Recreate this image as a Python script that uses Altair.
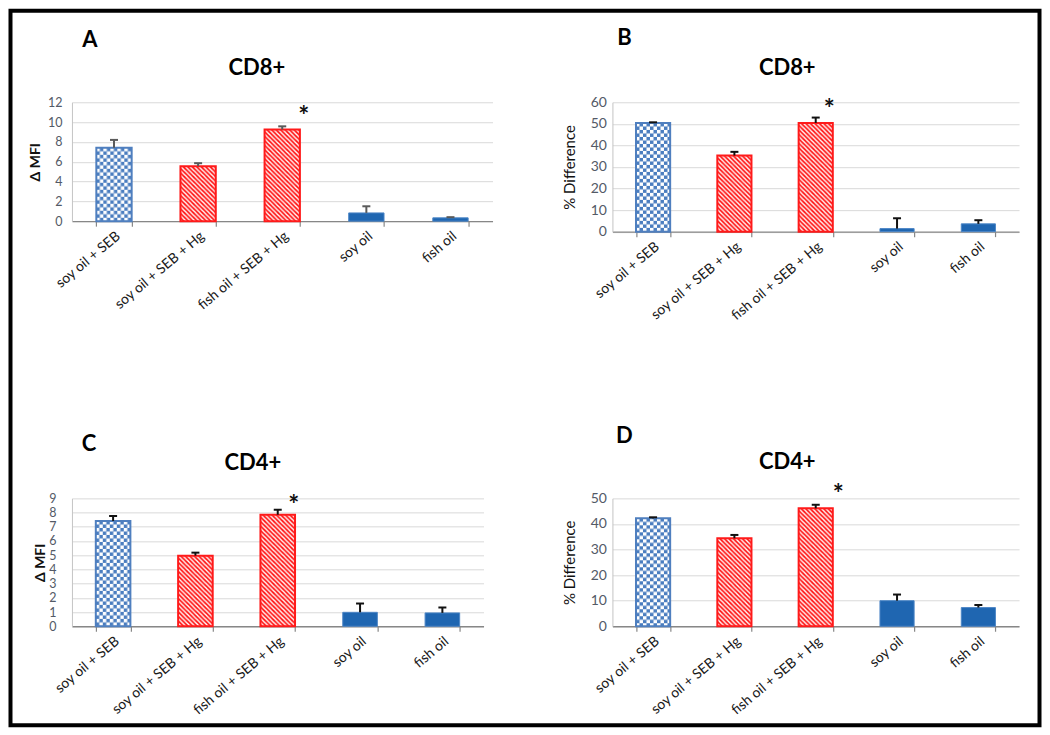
import base64
import altair as alt
import pandas as pd

# ---------------- data ----------------
categories = ["soy oil + SEB", "soy oil + SEB + Hg", "fish oil + SEB + Hg", "soy oil", "fish oil"]
fill_kind = ["checker", "stripe", "stripe", "solid", "solid"]

cd8_mfi_mean = [7.4, 5.55, 9.25, 0.83, 0.33]
cd8_mfi_sem = [0.8, 0.3, 0.32, 0.67, 0.07]
cd8_pct_mean = [50.4, 35.3, 50.4, 1.4, 3.6]
cd8_pct_sem = [0.3, 1.7, 2.5, 4.8, 1.7]
cd4_mfi_mean = [7.41, 4.97, 7.85, 0.98, 0.94]
cd4_mfi_sem = [0.35, 0.21, 0.35, 0.62, 0.38]
cd4_pct_mean = [42.2, 34.4, 46.1, 10.0, 7.3]
cd4_pct_sem = [0.4, 1.3, 1.4, 2.4, 1.0]

mfi8_ticks = [0, 2, 4, 6, 8, 10, 12]
pct8_ticks = [0, 10, 20, 30, 40, 50, 60]
mfi4_ticks = [0, 1, 2, 3, 4, 5, 6, 7, 8, 9]
pct4_ticks = [0, 10, 20, 30, 40, 50]

star_category = "fish oil + SEB + Hg"
star_level = [11.1, 59.4, 8.91, 53.7]  # A, B, C, D

# ---------------- fill patterns (svg tiles) ----------------
def svg_url(defs):
    svg = ('<svg xmlns="http://www.w3.org/2000/svg" width="100%" height="100%">'
           '<defs>' + defs + '</defs><rect width="100%" height="100%" fill="url(#p)"/></svg>')
    return "data:image/svg+xml;base64," + base64.b64encode(svg.encode()).decode()

CHECKER = svg_url('<pattern id="p" width="7" height="7" patternUnits="userSpaceOnUse">'
                  '<rect width="7" height="7" fill="#4a7dbf"/>'
                  '<rect width="3.5" height="3.5" fill="#ffffff"/>'
                  '<rect x="3.5" y="3.5" width="3.5" height="3.5" fill="#ffffff"/></pattern>')
STRIPE = svg_url('<pattern id="p" width="4.5" height="4.5" patternUnits="userSpaceOnUse">'
                 '<rect width="4.5" height="4.5" fill="#ff1a1a"/>'
                 '<path d="M-1,-1L5.5,5.5M-1,3.5L1,5.5M3.5,-1L5.5,1" stroke="#ffffff" stroke-width="1.4"/></pattern>')
PATTERN_URL = {"checker": CHECKER, "stripe": STRIPE, "solid": ""}

FONT = "Lato"


def make_panel(mean, sem, ticks, ymax, ytitle, ytitle_weight, ytitle_size, ylabel_size,
               letter, letter_pos, title, title_pos, width, height, err_color, star_y, star_dx,
               label_pad, title_pad, with_border=False):
    df = pd.DataFrame({
        "cat": categories,
        "kind": fill_kind,
        "mean": mean,
        "top": [m + s for m, s in zip(mean, sem)],
    })
    df["url"] = df["kind"].map(PATTERN_URL)

    xaxis = alt.Axis(title=None, labelAngle=-40, labelAlign="right", labelBaseline="middle",
                     labelPadding=8, labelOffset=4, labelFontSize=14, labelColor="#1a1a1a",
                     labelFont=FONT, tickBand="extent", tickSize=5, tickColor="#878787",
                     tickWidth=1.2, domainColor="#878787", domainWidth=1.4, grid=False)
    x = alt.X("cat:N", scale=alt.Scale(domain=categories, paddingInner=0.58, paddingOuter=0.29),
              axis=xaxis)
    yscale = alt.Scale(domain=[0, ymax], nice=False, zero=True)
    yaxis = alt.Axis(values=ticks, grid=True, gridColor="#d9d9d9", gridWidth=1,
                     domainColor="#c4c4c4", domainWidth=1, ticks=False,
                     labelFontSize=ylabel_size, labelColor="#535a66", labelFont=FONT,
                     labelPadding=label_pad, title=ytitle, titleFont=FONT,
                     titleFontSize=ytitle_size, titleFontWeight=ytitle_weight,
                     titleColor="#111111", titlePadding=title_pad)

    def Y(field):
        return alt.Y(field, scale=yscale, axis=yaxis)

    base = alt.Chart(df)
    patterned = base.transform_filter("datum.kind != 'solid'")
    solid_df = base.transform_filter("datum.kind == 'solid'")

    img = patterned.mark_image(aspect=False).encode(
        x=x, y=Y("mean:Q"), y2=alt.datum(0), url="url:N")
    outline = patterned.mark_bar(fillOpacity=0, strokeWidth=2).encode(
        x=x, y=Y("mean:Q"),
        stroke=alt.Stroke("kind:N", scale=alt.Scale(domain=["checker", "stripe"],
                                                   range=["#4f7fbf", "#ff1a1a"]), legend=None))
    solid = solid_df.mark_bar(color="#1f66b1", stroke="#4c86c6", strokeWidth=1).encode(
        x=x, y=Y("mean:Q"))
    stem = base.mark_rule(color=err_color, strokeWidth=2).encode(
        x=x, y=Y("mean:Q"), y2="top:Q")
    cap = base.mark_tick(color=err_color, thickness=2, size=8, opacity=1).encode(
        x=x, y=Y("top:Q"))

    star_df = pd.DataFrame({"cat": [star_category], "level": [star_y]})
    star = alt.Chart(star_df).mark_text(
        text="*", font=FONT, fontSize=26, fontWeight="bold", color="#111111",
        baseline="alphabetic", dx=star_dx, dy=14).encode(x=x, y=Y("level:Q"))

    one = pd.DataFrame({"k": [0]})
    letter_t = alt.Chart(one).mark_text(
        text=letter, font=FONT, fontSize=22, fontWeight="bold", color="#000000",
        align="center", baseline="middle").encode(
        x=alt.value(letter_pos[0]), y=alt.value(letter_pos[1]))
    title_t = alt.Chart(one).mark_text(
        text=title, font=FONT, fontSize=22, fontWeight="bold", color="#000000",
        align="center", baseline="middle").encode(
        x=alt.value(title_pos[0]), y=alt.value(title_pos[1]))

    layers = [img, outline, solid, stem, cap, star, letter_t, title_t]
    if with_border:
        border = alt.Chart(one).mark_rect(fill="#ffffff", fillOpacity=0, stroke="#000000",
                                          strokeWidth=4).encode(
            x=alt.value(-61.5), x2=alt.value(968.5), y=alt.value(-91.5), y2=alt.value(623.5))
        layers = [border] + layers
    return alt.layer(*layers).properties(width=width, height=height)


pA = make_panel(cd8_mfi_mean, cd8_mfi_sem, mfi8_ticks, 12, "Δ MFI", "bold", 14, 12.5, "A",
                (18, -62), "CD8+", (185, -34), 421, 119, "#5a5a5a", star_level[0], 21.5, 10, 5,
                with_border=True)
pB = make_panel(cd8_pct_mean, cd8_pct_sem, pct8_ticks, 60, "% Difference", "normal", 15, 14, "B",
                (12, -64), "CD8+", (175, -34), 407, 129.5, "#111111", star_level[1], 13.5, 6, 13)
pC = make_panel(cd4_mfi_mean, cd4_mfi_sem, mfi4_ticks, 9, "Δ MFI", "bold", 14, 12.5, "C",
                (17, -54), "CD4+", (181, -35), 412, 128, "#111111", star_level[2], 16, 16, 1)
pD = make_panel(cd4_pct_mean, cd4_pct_sem, pct4_ticks, 50, "% Difference", "normal", 15, 14, "D",
                (12, -62), "CD4+", (175, -36), 407, 128, "#111111", star_level[3], 22.5, 6, 13)

chart = alt.concat(pA, pB, pC, pD, columns=2, spacing={"row": 266.5, "column": 120},
                   bounds="flush", padding=0).configure(font=FONT).configure_view(stroke=None)

chart.save("out.html", embed_options={"renderer": "svg", "actions": False})
